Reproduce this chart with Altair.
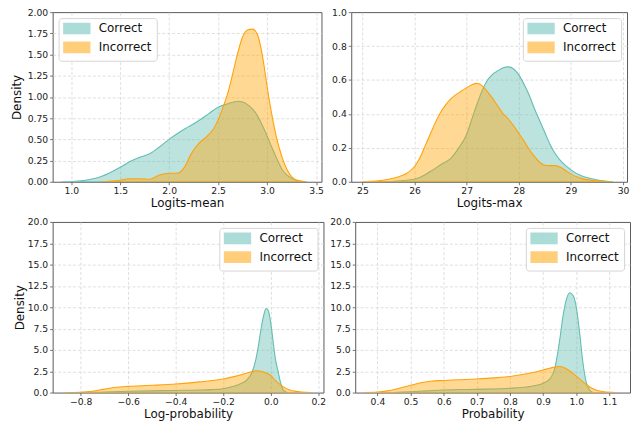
import altair as alt
import pandas as pd

SERIES = ["Correct", "Incorrect"]
FILL_COLORS = ["#62bdb3", "#ffa200"]
EDGE_COLORS = ["#62bdb3", "#ffa20a"]

# ---- Logits-mean ----
mean_c_x = [0.9, 1.0, 1.1, 1.2, 1.3, 1.4, 1.5, 1.6, 1.7, 1.8, 1.9, 2.0, 2.1, 2.2, 2.3, 2.4,
            2.5, 2.6, 2.7, 2.75, 2.8, 2.85, 2.9, 2.95, 3.0, 3.05, 3.1, 3.15, 3.2, 3.25, 3.3, 3.4]
mean_c_y = [0.0, 0.003, 0.01, 0.03, 0.06, 0.11, 0.17, 0.24, 0.29, 0.33, 0.41, 0.50, 0.58, 0.65, 0.72, 0.80,
            0.88, 0.92, 0.95, 0.94, 0.91, 0.86, 0.78, 0.67, 0.54, 0.40, 0.27, 0.15, 0.08, 0.04, 0.015, 0.0]
mean_i_x = [1.3, 1.45, 1.6, 1.7, 1.8, 1.9, 2.0, 2.08, 2.15, 2.22, 2.3, 2.38, 2.45, 2.5, 2.55, 2.6,
            2.65, 2.7, 2.75, 2.8, 2.85, 2.9, 2.95, 3.0, 3.05, 3.1, 3.15, 3.2, 3.25, 3.3, 3.4]
mean_i_y = [0.0, 0.01, 0.035, 0.035, 0.03, 0.08, 0.10, 0.10, 0.16, 0.32, 0.45, 0.53, 0.62, 0.73, 0.88, 1.05,
            1.28, 1.52, 1.71, 1.79, 1.80, 1.74, 1.50, 1.12, 0.78, 0.50, 0.30, 0.15, 0.06, 0.02, 0.0]

# ---- Logits-max ----
max_c_x = [25.3, 25.6, 25.9, 26.1, 26.3, 26.5, 26.7, 26.85, 27.0, 27.1, 27.2, 27.3, 27.4, 27.5, 27.6,
           27.7, 27.8, 27.9, 28.0, 28.1, 28.2, 28.3, 28.4, 28.5, 28.6, 28.7, 28.8, 28.9, 29.0, 29.2,
           29.4, 29.6, 29.8]
max_c_y = [0.0, 0.003, 0.01, 0.025, 0.06, 0.10, 0.14, 0.20, 0.28, 0.37, 0.46, 0.54, 0.60, 0.635, 0.655,
           0.672, 0.677, 0.665, 0.63, 0.575, 0.51, 0.43, 0.36, 0.29, 0.22, 0.165, 0.125, 0.095, 0.07, 0.035,
           0.018, 0.006, 0.0]
max_i_x = [25.0, 25.3, 25.5, 25.7, 25.85, 26.0, 26.1, 26.2, 26.3, 26.4, 26.5, 26.6, 26.7, 26.8, 26.9,
           27.0, 27.1, 27.2, 27.3, 27.4, 27.5, 27.6, 27.7, 27.8, 27.9, 28.0, 28.1, 28.2, 28.3, 28.4,
           28.5, 28.6, 28.7, 28.8, 28.9, 29.0, 29.2, 29.5, 29.8]
max_i_y = [0.0, 0.005, 0.015, 0.03, 0.05, 0.09, 0.14, 0.21, 0.28, 0.35, 0.41, 0.455, 0.49, 0.515, 0.535,
           0.555, 0.572, 0.58, 0.565, 0.53, 0.49, 0.445, 0.40, 0.37, 0.33, 0.285, 0.24, 0.19, 0.15, 0.115,
           0.097, 0.095, 0.095, 0.085, 0.065, 0.045, 0.02, 0.005, 0.0]

# ---- Log-probability ----
lp_c_x = [-0.85, -0.75, -0.7, -0.6, -0.5, -0.4, -0.3, -0.25, -0.2, -0.16, -0.13, -0.1, -0.08, -0.065,
          -0.05, -0.04, -0.03, -0.02, -0.01, 0.0, 0.01, 0.02, 0.03, 0.04, 0.05, 0.06, 0.07]
lp_c_y = [0.0, 0.02, 0.06, 0.15, 0.2, 0.25, 0.3, 0.35, 0.45, 0.7, 1.0, 1.5, 2.3, 3.6,
          5.8, 7.6, 9.0, 9.85, 9.6, 8.2, 6.0, 3.9, 2.6, 1.3, 0.45, 0.12, 0.0]
lp_i_x = [-0.87, -0.8, -0.75, -0.7, -0.65, -0.6, -0.5, -0.4, -0.3, -0.2, -0.15, -0.1, -0.06, -0.03,
          0.0, 0.02, 0.04, 0.06, 0.08, 0.1, 0.13, 0.17]
lp_i_y = [0.0, 0.04, 0.15, 0.4, 0.62, 0.73, 0.85, 1.0, 1.25, 1.6, 1.9, 2.3, 2.55, 2.4,
          2.0, 1.4, 0.95, 0.55, 0.3, 0.17, 0.05, 0.0]

# ---- Probability ----
p_c_x = [0.45, 0.5, 0.55, 0.6, 0.7, 0.8, 0.85, 0.88, 0.9, 0.92, 0.935, 0.95, 0.96, 0.97, 0.98,
         0.99, 1.0, 1.01, 1.02, 1.03, 1.04, 1.05]
p_c_y = [0.0, 0.1, 0.2, 0.3, 0.38, 0.5, 0.65, 0.85, 1.1, 1.6, 2.8, 6.2, 9.0, 10.9, 11.7,
         11.4, 10.0, 7.0, 3.5, 1.2, 0.3, 0.0]
p_i_x = [0.36, 0.4, 0.43, 0.46, 0.5, 0.53, 0.56, 0.6, 0.65, 0.7, 0.75, 0.8, 0.85, 0.88, 0.91,
         0.93, 0.95, 0.97, 0.99, 1.01, 1.03, 1.05, 1.07, 1.09, 1.12]
p_i_y = [0.0, 0.05, 0.2, 0.45, 0.85, 1.15, 1.33, 1.42, 1.5, 1.6, 1.72, 1.88, 2.2, 2.45, 2.75,
         2.95, 3.05, 2.8, 2.25, 1.6, 0.95, 0.45, 0.18, 0.06, 0.0]

mean_xticks = [1.0, 1.5, 2.0, 2.5, 3.0, 3.5]
mean_yticks = [0.0, 0.25, 0.5, 0.75, 1.0, 1.25, 1.5, 1.75, 2.0]
max_xticks = [25, 26, 27, 28, 29, 30]
max_yticks = [0.0, 0.2, 0.4, 0.6, 0.8, 1.0]
lp_xticks = [-0.8, -0.6, -0.4, -0.2, 0.0, 0.2]
p_xticks = [0.4, 0.5, 0.6, 0.7, 0.8, 0.9, 1.0, 1.1]
dens_yticks = [0.0, 2.5, 5.0, 7.5, 10.0, 12.5, 15.0, 17.5, 20.0]

FONT = "DejaVu Sans"
SWATCH = "M-1,-1L4.14,-1L4.14,1L-1,1Z"
FILL_ALPHA = 0.42


def make_df(cx, cy, ix, iy):
    rows = [{"x": a, "d": b, "series": "Correct"} for a, b in zip(cx, cy)]
    rows += [{"x": a, "d": b, "series": "Incorrect"} for a, b in zip(ix, iy)]
    return pd.DataFrame(rows)


def panel(df, xtitle, xdom, xticks, xfmt, ydom, yticks, yfmt, ytitle, orient,
          w, h, title_pad=1):
    leg = alt.Legend(
        title=None, orient=orient, offset=6, symbolType=SWATCH, symbolSize=100,
        labelOffset=24, labelFont=FONT, labelFontSize=12, labelColor="#111",
        padding=4.5, rowPadding=1, fillColor="rgba(255,255,255,0.85)",
        strokeColor="#d4d4d4", cornerRadius=3, symbolStrokeWidth=1.8,
        symbolOpacity=0.52,
    )
    ymax = ydom[1]
    yaxis_kw = dict(values=yticks, format=yfmt, titlePadding=title_pad,
                    gridOpacity={"condition": {"test": f"datum.value >= {ymax} || datum.value <= 0",
                                               "value": 0}, "value": 1})
    yaxis_kw["title"] = ytitle if ytitle else None
    base = alt.Chart(df).mark_area(
        interpolate="monotone", fillOpacity=FILL_ALPHA, strokeWidth=1.1, clip=True
    ).encode(
        x=alt.X("x:Q", scale=alt.Scale(domain=xdom, nice=False, zero=False),
                axis=alt.Axis(values=xticks, format=xfmt, title=xtitle)),
        y=alt.Y("d:Q", stack=None, scale=alt.Scale(domain=ydom, nice=False, zero=False),
                axis=alt.Axis(**yaxis_kw)),
        fill=alt.Fill("series:N", scale=alt.Scale(domain=SERIES, range=FILL_COLORS), legend=leg),
        stroke=alt.Stroke("series:N", scale=alt.Scale(domain=SERIES, range=EDGE_COLORS), legend=leg),
    )
    layered = alt.layer(
        base.transform_filter(alt.datum.series == "Correct"),
        base.transform_filter(alt.datum.series == "Incorrect"),
    ).properties(width=w, height=h)
    return layered


p1 = panel(make_df(mean_c_x, mean_c_y, mean_i_x, mean_i_y), "Logits-mean", [0.81, 3.555],
           mean_xticks, ".1f", [0, 2.0], mean_yticks, ".2f", "Density", "top-left",
           271, 171, title_pad=3.5)
p2 = panel(make_df(max_c_x, max_c_y, max_i_x, max_i_y), "Logits-max", [24.785, 30.076],
           max_xticks, "d", [0, 1.0], max_yticks, ".1f", None, "top-right", 278, 171)
p3 = panel(make_df(lp_c_x, lp_c_y, lp_i_x, lp_i_y), "Log-probability", [-0.918, 0.222],
           lp_xticks, ".1f", [0, 20], dens_yticks, ".1f", "Density", "top-right", 273, 172,
           title_pad=0.5)
p4 = panel(make_df(p_c_x, p_c_y, p_i_x, p_i_y), "Probability", [0.333, 1.162],
           p_xticks, ".1f", [0, 20], dens_yticks, ".1f", None, "top-right", 277, 172)

row1 = alt.hconcat(p1, p2, spacing=6).resolve_scale(fill="independent", stroke="independent")
row2 = alt.hconcat(p3, p4, spacing=2).resolve_scale(fill="independent", stroke="independent")

chart = alt.vconcat(row1, row2, spacing=7.5).resolve_scale(
    fill="independent", stroke="independent"
).properties(
    padding={"left": 2, "top": -2.5, "right": 0, "bottom": 0}
).configure_view(
    stroke="#5a5a5a", strokeWidth=1
).configure_axis(
    domain=False, grid=True, gridColor="#d6d6d6", gridDash=[3, 2], gridWidth=0.8,
    tickColor="#555", tickSize=3, tickWidth=0.8, labelPadding=2,
    labelFont=FONT, labelFontSize=9.3, labelColor="#222",
    titleFont=FONT, titleFontSize=12, titleFontWeight="normal", titleColor="#111",
).configure_axisX(titlePadding=1.5)

chart.save("out.html", embed_options={"renderer": "svg", "actions": False})
